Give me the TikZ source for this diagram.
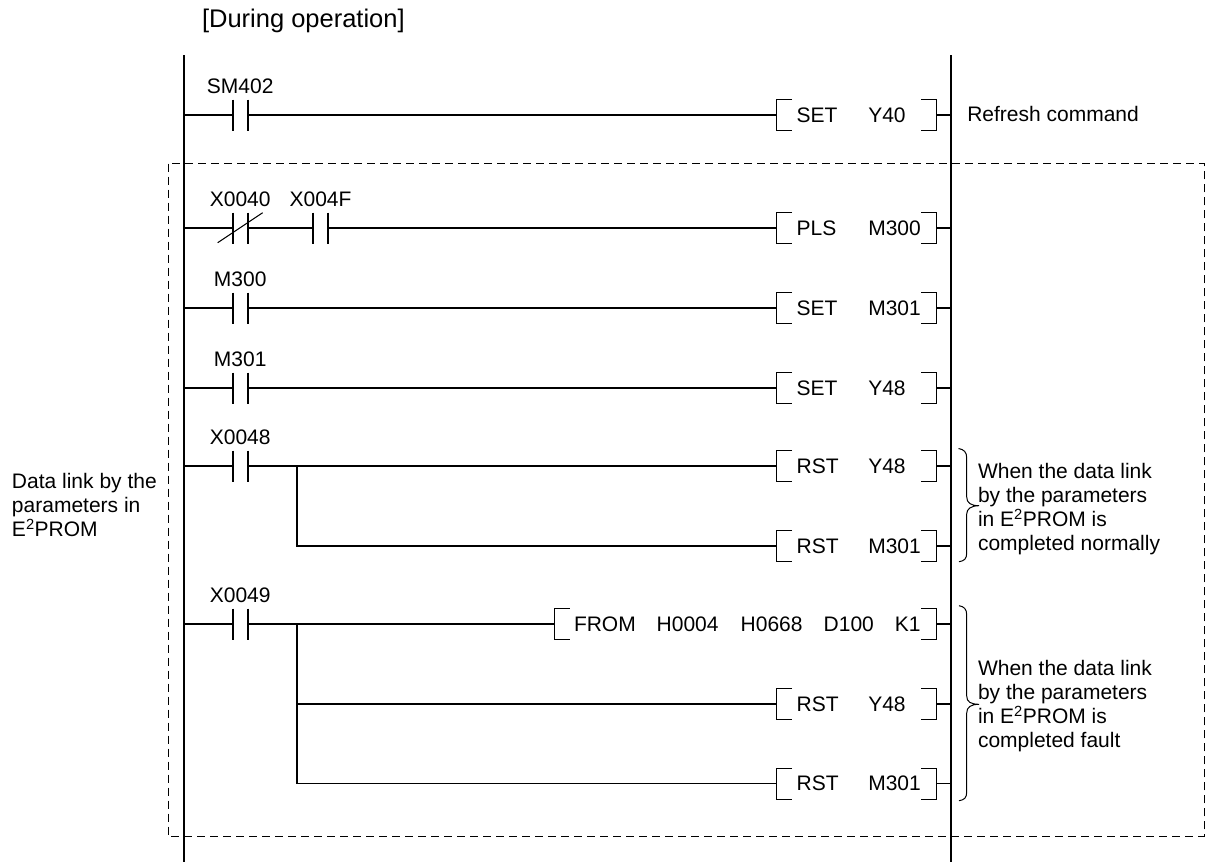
\documentclass[tikz,border=0pt]{standalone}
\usepackage{fontspec}
\setmainfont{Liberation Sans}
\newcommand{\supE}{E\textsuperscript{2}}
\tikzset{
  every node/.style={inner sep=0pt,outer sep=0pt,font=\fontsize{21}{24}\selectfont},
  rail/.style={line width=2pt},
  wire/.style={line width=1.8pt},
  thinl/.style={line width=1pt},
  dashbox/.style={line width=1pt,dash pattern=on 8pt off 5pt},
  contactnode/.style={minimum width=15pt,minimum height=31pt},
  coilnode/.style={minimum height=31pt,anchor=west},
  labelnode/.style={anchor=base},
  textnode/.style={anchor=base west,align=left}
}
\newcommand{\contact}[4]{%
  \node[contactnode] (#1) at (#2,#3) {};
  \draw[wire] (#1.north west) -- (#1.south west);
  \draw[wire] (#1.north east) -- (#1.south east);
  \node[labelnode] (#1l) at (#2,#3-21.7) {#4};}
\newcommand{\brackets}[1]{%
  \draw[thinl] ([xshift=15.5pt]#1.north west) -- (#1.north west) -- (#1.south west) -- ([xshift=15.5pt]#1.south west);
  \draw[thinl] ([xshift=-15.5pt]#1.north east) -- (#1.north east) -- (#1.south east) -- ([xshift=-15.5pt]#1.south east);}
\newcommand{\coil}[4]{% name, y, instruction, operand
  \node[coilnode] (#1) at (776.7,#2) {\makebox[160pt][l]{\hspace{20pt}\makebox[71.6pt][l]{#3}#4}};
  \brackets{#1}}
\begin{document}
\begin{tikzpicture}[x=1pt,y=-1pt]
\useasboundingbox (0,0) rectangle (1205,862);
% dashed frame
\draw[dashbox] (168.5,163.5) rectangle (1204,836.7);
% rails
\coordinate (LT) at (184,55);
\coordinate (LB) at (184,862);
\coordinate (RT) at (951,55);
\coordinate (RB) at (951,862);
\draw[rail] (LT) -- (LB);
\draw[rail] (RT) -- (RB);
% left and right rail points
\foreach \n/\y in {1/115,2/228,3/308,4/388,5/466,6/546,7/624,8/704,9/783.5}{
  \coordinate (L\n) at (184,\y);
  \coordinate (R\n) at (951,\y);
}
% title
\node[textnode,font=\fontsize{25.5}{28}\selectfont] (title) at (202,27.5) {[During operation]};
% rung 1
\contact{c1}{240.2}{115}{SM402}
\coil{k1}{115}{SET}{Y40}
\draw[wire] (L1) -- (c1.west);
\draw[wire] (c1.east) -- (k1.west);
\draw[wire] (k1.east) -- (R1);
\node[textnode] (t1) at (967.3,121.7) {Refresh command};
% rung 2
\contact{c2}{240.2}{228}{X0040}
\contact{c2b}{320.5}{228}{X004F}
\coil{k2}{228}{PLS}{M300}
\draw[wire] (L2) -- (c2.west);
\draw[wire] (c2.east) -- (c2b.west);
\draw[wire] (c2b.east) -- (k2.west);
\draw[wire] (k2.east) -- (R2);
\draw[thinl] ([xshift=-22.5pt,yshift=-14.7pt]c2.center) -- ([xshift=22.5pt,yshift=15.3pt]c2.center);
% rung 3
\contact{c3}{240.2}{308}{M300}
\coil{k3}{308}{SET}{M301}
\draw[wire] (L3) -- (c3.west);
\draw[wire] (c3.east) -- (k3.west);
\draw[wire] (k3.east) -- (R3);
% rung 4
\contact{c4}{240.2}{388}{M301}
\coil{k4}{388}{SET}{Y48}
\draw[wire] (L4) -- (c4.west);
\draw[wire] (c4.east) -- (k4.west);
\draw[wire] (k4.east) -- (R4);
% rung 5,6
\contact{c5}{240.2}{466}{X0048}
\coil{k5}{466}{RST}{Y48}
\coil{k6}{546}{RST}{M301}
\draw[wire] (L5) -- (c5.west);
\draw[wire] (c5.east) -- (k5.west);
\draw[wire] (k5.east) -- (R5);
\draw[wire] (k6.east) -- (R6);
\coordinate (b5) at (296.7,466);
\draw[wire] (b5) |- (k6.west);
% rung 7,8,9
\contact{c7}{240.2}{624}{X0049}
\node[coilnode] (k7) at (554,624) {\makebox[382.7pt][l]{\hspace{20pt}\makebox[82.7pt][l]{FROM}\makebox[84pt][l]{H0004}\makebox[83pt][l]{H0668}\makebox[71.3pt][l]{D100}K1}};
\brackets{k7}
\coil{k8}{704}{RST}{Y48}
\coil{k9}{783.5}{RST}{M301}
\draw[wire] (L7) -- (c7.west);
\draw[wire] (c7.east) -- (k7.west);
\draw[wire] (k7.east) -- (R7);
\draw[wire] (k8.east) -- (R8);
\draw[wire] (k9.east) -- (R9);
\coordinate (b7) at (296.7,624);
\draw[wire] (b7) |- (k8.west);
\draw[wire] (b7) |- (k9.west);
% braces
\draw[thinl] (958.5,448.5) .. controls (964,449.5) and (966.7,452) .. (966.7,458) -- (966.7,497)
  .. controls (966.7,503) and (971,505.7) .. (979,505.7)
  .. controls (971,505.7) and (966.7,509) .. (966.7,514) -- (966.7,553)
  .. controls (966.7,559) and (964,561) .. (959,561.7);
\draw[thinl] (959,605.7) .. controls (964,606.5) and (966.7,609) .. (966.7,615) -- (966.7,696)
  .. controls (966.7,702) and (971,704.3) .. (979,704.3)
  .. controls (971,704.3) and (966.7,707) .. (966.7,713) -- (966.7,792)
  .. controls (966.7,798) and (964,800) .. (959,800.7);
% notes
\node[anchor=south west,align=left] (n1) at (978,555) {When the data link\\by the parameters\\in \supE{}PROM is\\completed normally};
\node[anchor=south west,align=left] (n2) at (978,752) {When the data link\\by the parameters\\in \supE{}PROM is\\completed fault};
\node[anchor=south west,align=left] (n3) at (12,537) {Data link by the\\parameters in\\\supE{}PROM};
\end{tikzpicture}
\end{document}
